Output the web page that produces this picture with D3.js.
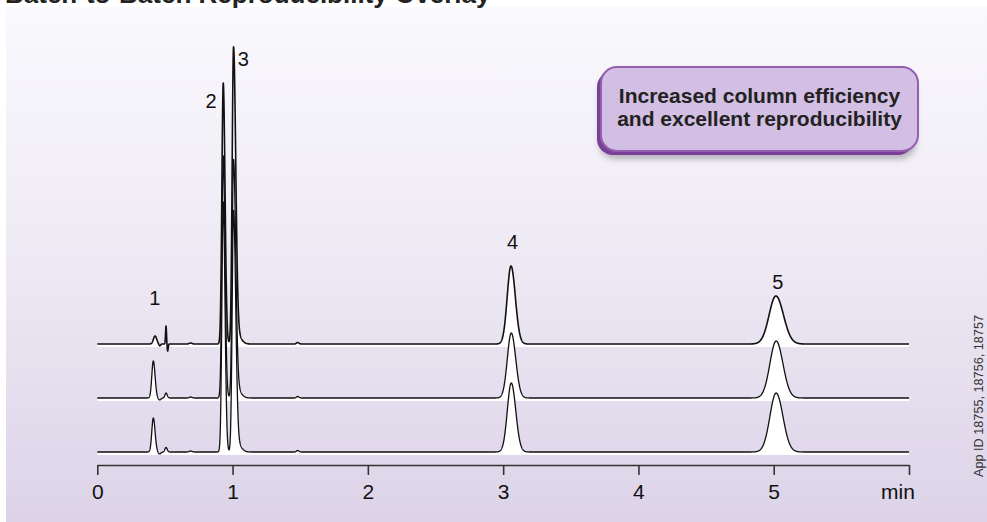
<!DOCTYPE html>
<html>
<head>
<meta charset="utf-8">
<script src="https://cdn.jsdelivr.net/npm/d3@7"></script>
<style>
  body { margin: 0; background: #fff; }
  svg { display: block; font-family: "Liberation Sans", Arial, Helvetica, sans-serif; }
</style>
</head>
<body>
<div id="chart"></div>
<script>
// chart size
const width = 987, height = 522;

// x axis ticks (min)
const tickValues = [0, 1, 2, 3, 4, 5, 6];
const tickLabels = ["0", "1", "2", "3", "4", "5", "min"];

// peak labels
const peakNames = ["1", "2", "3", "4", "5"];
const peakLabelTimes = [0.425, 0.84, 1.08, 3.07, 5.03];
const peakLabelLevels = [147, 344, 386, 203, 163];

// three batches, stacked; offsets in signal units
const batchOffsets = [108, 54, 0];
const batchEnd = [6, 6, 6];

// peak tables: [retention time, height, sigma left, sigma right]
const batchTop = [
  [0.427, 8, 0.012, 0.012],
  [0.462, -2, 0.006, 0.006],
  [0.508, 18, 0.0035, 0.0035],
  [0.52, -7, 0.0035, 0.004],
  [0.69, 1, 0.01, 0.01],
  [0.931, 261, 0.010, 0.013],
  [1.007, 292, 0.010, 0.016],
  [1.03, 10, 0.02, 0.03],
  [1.48, 1.5, 0.008, 0.01],
  [3.058, 78, 0.028, 0.032],
  [5.016, 48, 0.05, 0.056]
];
const batchMid = [
  [0.414, 37, 0.011, 0.013],
  [0.46, -2, 0.01, 0.01],
  [0.508, 5, 0.008, 0.009],
  [0.69, 1, 0.01, 0.01],
  [0.931, 242, 0.010, 0.013],
  [1.007, 234, 0.010, 0.016],
  [1.03, 9, 0.02, 0.03],
  [1.48, 1.5, 0.008, 0.01],
  [3.06, 65, 0.029, 0.033],
  [5.018, 57, 0.046, 0.05]
];
const batchBot = [
  [0.414, 34, 0.011, 0.013],
  [0.46, -2, 0.01, 0.01],
  [0.508, 4.5, 0.008, 0.009],
  [0.69, 1, 0.01, 0.01],
  [0.931, 250, 0.010, 0.013],
  [1.007, 237, 0.010, 0.016],
  [1.03, 9, 0.02, 0.03],
  [1.48, 1.5, 0.008, 0.01],
  [3.06, 69, 0.029, 0.033],
  [5.018, 59, 0.046, 0.05]
];
const batches = [batchTop, batchMid, batchBot];

const svg = d3.select("#chart").append("svg")
  .attr("width", width)
  .attr("height", height);

const defs = svg.append("defs");
const bg = defs.append("linearGradient").attr("id", "bg")
  .attr("x1", 0).attr("y1", 0).attr("x2", 0).attr("y2", 1);
bg.append("stop").attr("offset", "0%").attr("stop-color", "#faf9fd");
bg.append("stop").attr("offset", "45%").attr("stop-color", "#efebf5");
bg.append("stop").attr("offset", "100%").attr("stop-color", "#dcd3e8");

const blur = defs.append("filter").attr("id", "soft")
  .attr("x", "-10%").attr("y", "-20%").attr("width", "120%").attr("height", "160%");
blur.append("feGaussianBlur").attr("stdDeviation", 3);

// panel
svg.append("rect").attr("x", 0).attr("y", 0).attr("width", width).attr("height", height).attr("fill", "#fff");
svg.append("rect").attr("x", 6).attr("y", 7).attr("width", width - 6).attr("height", height - 7).attr("fill", "url(#bg)");

// title (cut off at the top, like the original)
svg.append("text")
  .attr("x", 5).attr("y", 3)
  .style("font-size", "26px").style("font-weight", "bold").style("fill", "#222")
  .text("Batch-to-Batch Reproducibility Overlay");

// scales
const x = d3.scaleLinear().domain([0, 6]).range([97.3, 909]);
const y = d3.scaleLinear().domain([0, 420]).range([452, 32]);

function signal(peaks, t) {
  let s = 0;
  peaks.forEach(p => {
    const sg = t < p[0] ? p[2] : p[3];
    const z = (t - p[0]) / sg;
    if (Math.abs(z) < 8) s += p[1] * Math.exp(-0.5 * z * z);
  });
  return s;
}

const step = 0.001;
const traces = batches.map((peaks, i) => {
  const pts = [];
  for (let t = 0; t <= batchEnd[i] + 1e-9; t += step) {
    pts.push({t: t, v: batchOffsets[i] + signal(peaks, t), base: batchOffsets[i]});
  }
  return pts;
});

const area = d3.area()
  .x(d => x(d.t))
  .y0(d => y(d.base - 3))
  .y1(d => y(d.v));
const line = d3.line()
  .x(d => x(d.t))
  .y(d => y(d.v));

const traceG = svg.append("g");
traces.forEach((pts, i) => {
  traceG.append("path").datum(pts)
    .attr("d", area)
    .attr("fill", "#fff");
  traceG.append("path").datum(pts)
    .attr("d", line)
    .attr("fill", "none")
    .attr("stroke", "#111")
    .attr("stroke-width", i === 0 ? 1.6 : 1.3)
    .attr("stroke-linejoin", "round");
});

// peak labels
svg.append("g").selectAll("text").data(peakNames).enter()
  .append("text")
  .attr("x", (d, i) => x(peakLabelTimes[i]))
  .attr("y", (d, i) => y(peakLabelLevels[i]))
  .attr("text-anchor", "middle")
  .style("font-size", "20px").style("fill", "#111")
  .text(d => d);

// x axis
const axis = svg.append("g")
  .attr("transform", "translate(0,465)")
  .call(d3.axisBottom(x).tickValues(tickValues).tickSize(10).tickPadding(6)
    .tickFormat((d, i) => tickLabels[i]).tickSizeOuter(0));
axis.select(".domain").attr("stroke", "#333").attr("stroke-width", 1.6);
axis.selectAll(".tick line").attr("stroke", "#333").attr("stroke-width", 1.6);
axis.selectAll(".tick text")
  .style("font-size", "21px").style("fill", "#111")
  .attr("font-family", null)
  .attr("dy", "0.85em");
axis.selectAll(".tick text").filter(d => d === 6).attr("dx", "-0.55em");

// callout box
const box = {x: 601, y: 67, w: 317, h: 84};
svg.append("rect")
  .attr("x", box.x - 2).attr("y", box.y + 8).attr("width", box.w).attr("height", box.h)
  .attr("rx", 16).attr("fill", "#6a6470").attr("opacity", 0.45).attr("filter", "url(#soft)");
svg.append("rect")
  .attr("x", box.x - 4).attr("y", box.y + 4).attr("width", box.w).attr("height", box.h)
  .attr("rx", 16).attr("fill", "#7a3f97");
svg.append("rect")
  .attr("x", box.x).attr("y", box.y).attr("width", box.w).attr("height", box.h)
  .attr("rx", 16).attr("fill", "#d3bfe3").attr("stroke", "#9460ae").attr("stroke-width", 2);
svg.append("text")
  .attr("x", box.x + box.w / 2).attr("y", 103)
  .attr("text-anchor", "middle")
  .style("font-size", "21px").style("font-weight", "bold").style("fill", "#222")
  .text("Increased column efficiency");
svg.append("text")
  .attr("x", box.x + box.w / 2).attr("y", 126)
  .attr("text-anchor", "middle")
  .style("font-size", "21px").style("font-weight", "bold").style("fill", "#222")
  .text("and excellent reproducibility");

// side note
svg.append("text")
  .attr("transform", "translate(983,396) rotate(-90)")
  .attr("text-anchor", "middle")
  .attr("textLength", 162).attr("lengthAdjust", "spacingAndGlyphs")
  .style("font-size", "13px").style("fill", "#333")
  .text("App ID 18755, 18756, 18757");
</script>
</body>
</html>
